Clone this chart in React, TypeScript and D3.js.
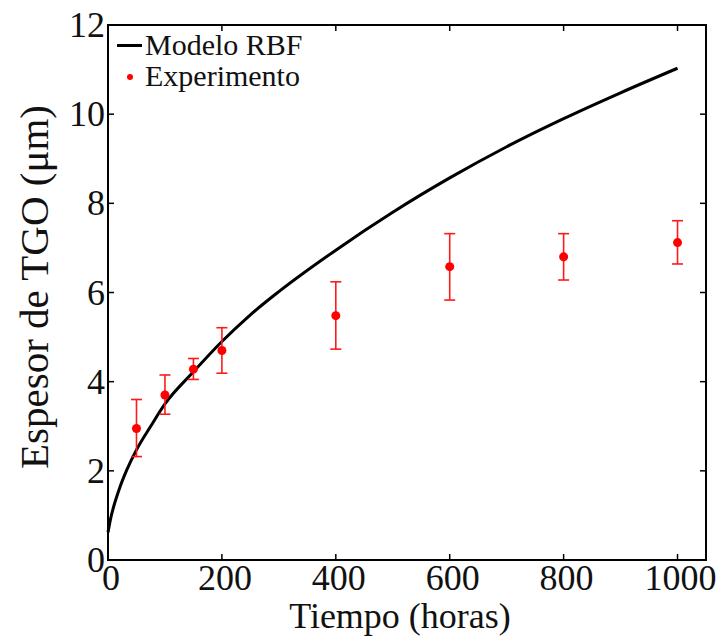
import React from "react";
import * as d3 from "d3";

const modelX = [0, 5, 10, 20, 33, 50, 75, 100, 150, 200, 250, 300, 400, 500, 600, 700, 800, 900, 1000];
const modelY = [0.62, 0.95, 1.2, 1.6, 2.02, 2.47, 3.0, 3.5, 4.22, 4.9, 5.5, 6.02, 6.95, 7.8, 8.57, 9.27, 9.9, 10.48, 11.03];

const expX = [50, 100, 150, 200, 400, 600, 800, 1000];
const expY = [2.95, 3.7, 4.28, 4.7, 5.48, 6.58, 6.8, 7.12];
const expLow = [2.32, 3.27, 4.05, 4.19, 4.73, 5.83, 6.28, 6.64];
const expHigh = [3.6, 4.15, 4.52, 5.21, 6.24, 7.32, 7.32, 7.61];

const xTicks = [0, 200, 400, 600, 800, 1000];
const yTicks = [0, 2, 4, 6, 8, 10, 12];

const W = 723;
const H = 636;
const L = 108, R = 706, T = 25, B = 560;
const FONT = "'Liberation Serif', 'Times New Roman', serif";

export default function App() {
  const x = d3.scaleLinear().domain([0, 1050]).range([L, R]);
  const y = d3.scaleLinear().domain([0, 12]).range([B, T]);
  const line = d3
    .line<number>()
    .x((_, i) => x(modelX[i]))
    .y((d) => y(d))
    .curve(d3.curveMonotoneX);
  const tk = 6;
  return (
    <svg width={W} height={H} style={{ position: "absolute", left: 0, top: 0, background: "#fff" }}>
      <rect x={0} y={0} width={W} height={H} fill="#fff" />
      <path d={line(modelY) || ""} fill="none" stroke="#000" strokeWidth={3} />
      {expX.map((v, i) => (
        <g key={i} stroke="#ff1a1a" strokeWidth={1.6}>
          <line x1={x(v)} x2={x(v)} y1={y(expLow[i])} y2={y(expHigh[i])} />
          <line x1={x(v) - 5.5} x2={x(v) + 5.5} y1={y(expLow[i])} y2={y(expLow[i])} />
          <line x1={x(v) - 5.5} x2={x(v) + 5.5} y1={y(expHigh[i])} y2={y(expHigh[i])} />
          <circle cx={x(v)} cy={y(expY[i])} r={4.5} fill="#ff0000" stroke="none" />
        </g>
      ))}
      <rect x={L} y={T} width={R - L} height={B - T} fill="none" stroke="#000" strokeWidth={2} />
      {xTicks.map((t) => (
        <g key={"xt" + t} stroke="#000" strokeWidth={1.5}>
          <line x1={x(t)} x2={x(t)} y1={B} y2={B - tk} />
          <line x1={x(t)} x2={x(t)} y1={T} y2={T + tk} />
        </g>
      ))}
      {yTicks.map((t) => (
        <g key={"yt" + t} stroke="#000" strokeWidth={1.5}>
          <line x1={L} x2={L + tk} y1={y(t)} y2={y(t)} />
          <line x1={R} x2={R - tk} y1={y(t)} y2={y(t)} />
        </g>
      ))}
      {xTicks.map((t) => (
        <text key={"xl" + t} x={x(t) + 3} y={590} textAnchor="middle" fontFamily={FONT} fontSize={36} fill="#111">
          {t}
        </text>
      ))}
      {yTicks.map((t) => (
        <text key={"yl" + t} x={105} y={y(t) + 12} textAnchor="end" fontFamily={FONT} fontSize={36} fill="#111">
          {t}
        </text>
      ))}
      <text x={400} y={628} textAnchor="middle" fontFamily={FONT} fontSize={36} fill="#111">
        Tiempo (horas)
      </text>
      <text
        transform={`translate(48,${287}) rotate(-90)`}
        textAnchor="middle"
        fontFamily={FONT}
        fontSize={41}
        fill="#111"
      >
        Espesor de TGO (μm)
      </text>
      <line x1={117} x2={142} y1={45.5} y2={45.5} stroke="#000" strokeWidth={3} />
      <text x={145} y={55} fontFamily={FONT} fontSize={30} fill="#111">
        Modelo RBF
      </text>
      <circle cx={130} cy={77} r={3} fill="#ff0000" />
      <text x={145} y={86} fontFamily={FONT} fontSize={30} fill="#111">
        Experimento
      </text>
    </svg>
  );
}
